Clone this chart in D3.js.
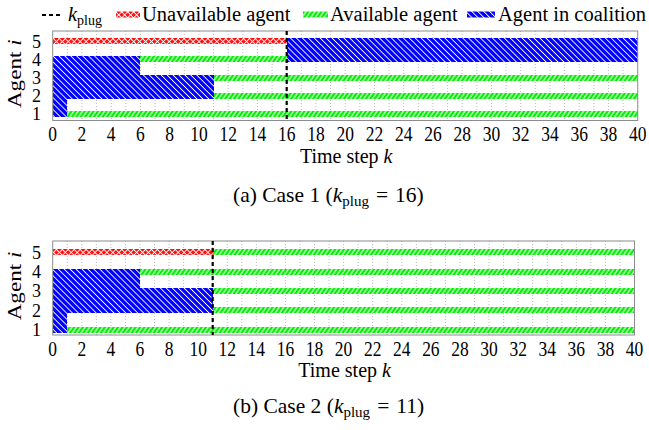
<!DOCTYPE html>
<html>
<head>
<meta charset="utf-8">
<script src="https://cdn.jsdelivr.net/npm/d3@7"></script>
<style>
  body { margin: 0; background: #fff; }
  svg { display: block; font-family: "Liberation Serif", "Times New Roman", serif; }
</style>
</head>
<body>
<svg id="chart" width="649" height="430"></svg>
<script>
// ---- data ----------------------------------------------------------------
const agents = [1, 2, 3, 4, 5];
const kTicks = d3.range(0, 41, 2);
const kGrid = d3.range(0, 41, 1);
const kSteps = d3.range(0, 40);           // unit time steps [k, k+1)
const stateLabels = { U: "Unavailable agent", A: "Available agent", C: "Agent in coalition" };
const legendOrder = ["U", "A", "C"];

// [agent, k start, k end, state]
const case1KPlug = 16;
const case1Segments = [
  [1, 0, 1, "C"], [1, 1, 40, "A"],
  [2, 0, 11, "C"], [2, 11, 40, "A"],
  [3, 0, 11, "C"], [3, 11, 40, "A"],
  [4, 0, 6, "C"], [4, 6, 16, "A"], [4, 16, 40, "C"],
  [5, 0, 16, "U"], [5, 16, 40, "C"]
];

const case2KPlug = 11;
const case2Segments = [
  [1, 0, 1, "C"], [1, 1, 40, "A"],
  [2, 0, 11, "C"], [2, 11, 40, "A"],
  [3, 0, 11, "C"], [3, 11, 40, "A"],
  [4, 0, 6, "C"], [4, 6, 40, "A"],
  [5, 0, 11, "U"], [5, 11, 40, "A"]
];

// ---- layout ----------------------------------------------------------------
const panels = [
  { tag: "(a)", name: "Case 1", kPlug: case1KPlug, segments: case1Segments,
    left: 52.7, right: 637.7, top: 31, bottom: 120.5, yRow5: 41.2, yRow1: 113.9,
    tickY: 141, titleY: 163, captionY: 202 },
  { tag: "(b)", name: "Case 2", kPlug: case2KPlug, segments: case2Segments,
    left: 52.7, right: 634.5, top: 241, bottom: 335, yRow5: 252.2, yRow1: 329.7,
    tickY: 356, titleY: 377, captionY: 413 }
];
const barH = 6;
const tickStretch = 1.2;   // tall, narrow tick numerals

const colors = { U: "#ff1010", A: "#00ee00", C: "#0000ff" };

const svg = d3.select("#chart");
const defs = svg.append("defs");

// hatched fills
function hatch(id, bg, size, angle, strokeW, cross) {
  const p = defs.append("pattern")
    .attr("id", id)
    .attr("patternUnits", "userSpaceOnUse")
    .attr("width", size).attr("height", size)
    .attr("patternTransform", `rotate(${angle})`);
  p.append("rect").attr("width", size).attr("height", size).attr("fill", bg);
  p.append("line").attr("x1", size / 2).attr("x2", size / 2).attr("y1", -1).attr("y2", size + 1)
    .attr("stroke", "#fff").attr("stroke-width", strokeW);
  if (cross) {
    p.append("line").attr("y1", size / 2).attr("y2", size / 2).attr("x1", -1).attr("x2", size + 1)
      .attr("stroke", "#fff").attr("stroke-width", strokeW);
  }
}
hatch("fillU", colors.U, 4.2, 45, 0.9, true);
hatch("fillA", colors.A, 3.6, 35, 1.1, false);
hatch("fillC", colors.C, 4.2, -45, 0.9, false);

// ---- legend ----------------------------------------------------------------
const legend = svg.append("g");
legend.append("line")
  .attr("x1", 42).attr("x2", 62).attr("y1", 15).attr("y2", 15)
  .attr("stroke", "#000").attr("stroke-width", 2).attr("stroke-dasharray", "4,3");
const kLab = legend.append("text").attr("x", 68).attr("y", 21).attr("font-size", 20.5);
kLab.append("tspan").attr("font-style", "italic").text("k");
kLab.append("tspan").attr("font-size", 14).attr("dy", 4).text("plug");

const legendPos = { U: [116, 24, 142], A: [303, 25, 330], C: [467, 28, 498] };
legendOrder.forEach(s => {
  const [sx, sw, tx] = legendPos[s];
  legend.append("rect").attr("x", sx).attr("y", 11.5).attr("width", sw).attr("height", 6)
    .attr("fill", `url(#fill${s})`);
  legend.append("text").attr("x", tx).attr("y", 21).attr("font-size", 20.5).text(stateLabels[s]);
});

// ---- panels ----------------------------------------------------------------
panels.forEach(p => {
  const x = d3.scaleLinear().domain([0, 40]).range([p.left, p.right]);
  const y = d3.scaleLinear().domain([1, 5]).range([p.yRow1, p.yRow5]);
  const g = svg.append("g");

  // dotted vertical grid
  g.append("g").selectAll("line").data(kGrid.slice(1, -1)).join("line")
    .attr("x1", d => x(d)).attr("x2", d => x(d))
    .attr("y1", p.top).attr("y2", p.bottom)
    .attr("stroke", "#a8a8a8").attr("stroke-width", 0.8).attr("stroke-dasharray", "1,2");

  // state per agent per unit step
  const state = {};
  agents.forEach(a => state[a] = kSteps.map(() => null));
  p.segments.forEach(([a, k0, k1, s]) => {
    for (let k = k0; k < k1; k++) state[a][k] = s;
  });

  // runs of equal drawing key; coalition bars reach down to the next
  // coalition member so adjacent members form one block
  const runs = [];
  agents.forEach(a => {
    let cur = null;
    kSteps.forEach(k => {
      const s = state[a][k];
      const ext = s === "C" && a > 1 && state[a - 1][k] === "C";
      const key = s + (ext ? "+" : "");
      if (cur && cur.key === key) { cur.k1 = k + 1; }
      else { cur = { agent: a, key, s, ext, k0: k, k1: k + 1 }; runs.push(cur); }
    });
  });

  g.append("g").selectAll("rect").data(runs.filter(r => r.s)).join("rect")
    .attr("x", r => x(r.k0))
    .attr("width", r => x(r.k1) - x(r.k0))
    .attr("y", r => y(r.agent) - barH / 2)
    .attr("height", r => r.ext ? (y(r.agent - 1) - y(r.agent)) : barH)
    .attr("fill", r => `url(#fill${r.s})`)
    .attr("shape-rendering", "crispEdges");

  // frame
  g.append("rect")
    .attr("x", p.left).attr("y", p.top)
    .attr("width", p.right - p.left).attr("height", p.bottom - p.top)
    .attr("fill", "none").attr("stroke", "#8c8c8c").attr("stroke-width", 1);

  // k_plug marker
  g.append("line")
    .attr("x1", x(p.kPlug)).attr("x2", x(p.kPlug))
    .attr("y1", p.top).attr("y2", p.bottom)
    .attr("stroke", "#000").attr("stroke-width", 2.2).attr("stroke-dasharray", "4,3");

  // x ticks
  g.append("g").selectAll("text").data(kTicks).join("text")
    .attr("transform", d => `translate(${x(d)},${p.tickY}) scale(1,${tickStretch})`)
    .attr("text-anchor", "middle").attr("font-size", 17.5)
    .text(d => d);

  // y ticks
  g.append("g").selectAll("text").data(agents).join("text")
    .attr("x", 41).attr("y", d => y(d) + 6.5)
    .attr("text-anchor", "end").attr("font-size", 18)
    .text(d => d);

  // axis titles
  const xt = g.append("text").attr("x", (p.left + p.right) / 2 + 1).attr("y", p.titleY)
    .attr("text-anchor", "middle").attr("font-size", 20);
  xt.append("tspan").text("Time step ");
  xt.append("tspan").attr("font-style", "italic").text("k");

  const yc = (p.top + p.bottom) / 2 - 2;
  const yt = g.append("text")
    .attr("transform", `translate(21,${yc}) rotate(-90) scale(1.25,1)`)
    .attr("text-anchor", "middle").attr("font-size", 18.5);
  yt.append("tspan").text("Agent ");
  yt.append("tspan").attr("font-style", "italic").text("i");

  // caption
  const cap = g.append("text").attr("x", 233).attr("y", p.captionY).attr("font-size", 21.5);
  cap.append("tspan").text(`${p.tag} ${p.name} (`);
  cap.append("tspan").attr("font-style", "italic").text("k");
  cap.append("tspan").attr("font-size", 15).attr("dy", 4).text("plug");
  cap.append("tspan").attr("dy", -4).attr("dx", 7).text("=");
  cap.append("tspan").attr("dx", 7).text(`${p.kPlug})`);
});
</script>
</body>
</html>
